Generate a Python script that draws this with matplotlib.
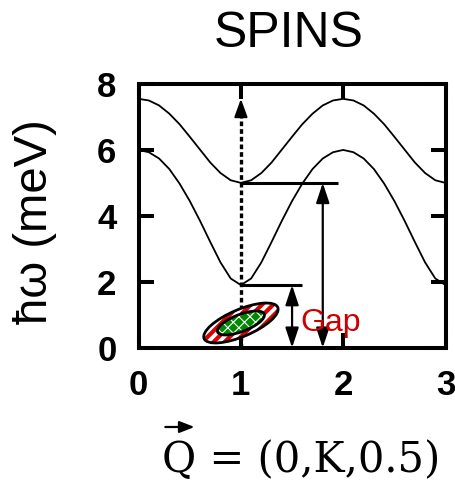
import matplotlib
matplotlib.use("Agg")
import matplotlib.pyplot as plt
import matplotlib.transforms as mtransforms
from matplotlib.patches import Ellipse

# dispersion, Q = (0,K,0.5)
q = [0.0, 0.1, 0.2, 0.3, 0.4, 0.5, 0.6, 0.7, 0.8, 0.9,
     1.0, 1.1, 1.2, 1.3, 1.4, 1.5, 1.6, 1.7, 1.8, 1.9,
     2.0, 2.1, 2.2, 2.3, 2.4, 2.5, 2.6, 2.7, 2.8, 2.9, 3.0]
lower = [6.00, 5.93, 5.74, 5.42, 4.98, 4.45, 3.85, 3.21, 2.59, 2.10,
         1.90, 2.10, 2.59, 3.21, 3.85, 4.45, 4.98, 5.42, 5.74, 5.93,
         6.00, 5.93, 5.74, 5.42, 4.98, 4.45, 3.85, 3.21, 2.59, 2.10, 1.90]
upper = [7.55, 7.50, 7.35, 7.10, 6.78, 6.40, 6.01, 5.62, 5.30, 5.08,
         5.00, 5.08, 5.30, 5.62, 6.01, 6.40, 6.78, 7.10, 7.35, 7.50,
         7.55, 7.50, 7.35, 7.10, 6.78, 6.40, 6.01, 5.62, 5.30, 5.08, 5.00]

# gap markers
gap_x = [1.5, 1.8]
gap_top = [1.9, 5.0]
level_end = [1.6, 1.95]
zone_q = 1.0
zone_top = 7.55
blob_center = (1.0, 0.75)

xticks = [0, 1, 2, 3]
yticks = [0, 2, 4, 6, 8]
xlabels = ["0", "1", "2", "3"]
ylabels = ["0", "2", "4", "6", "8"]

fig = plt.figure(figsize=(4.56, 4.8), dpi=100)
ax = fig.add_axes([0.304, 0.2756, 0.673, 0.5494])

ax.plot(q, lower, color="black", lw=1.3)
ax.plot(q, upper, color="black", lw=1.3)

# dotted line with head at Q=1
ax.plot([zone_q, zone_q], [0, zone_top - 0.3], color="black", lw=2.4,
        linestyle=(0, (1.4, 0.9)))
ax.annotate("", xy=(zone_q, zone_top), xytext=(zone_q, zone_top - 0.45),
            arrowprops=dict(arrowstyle="-|>,head_length=1.1,head_width=0.4",
                            color="black", lw=1.5, shrinkA=0, shrinkB=0))

# level lines and gap arrows
for top, end, gx in zip(gap_top, level_end, gap_x):
    ax.plot([zone_q, end], [top, top], color="black", lw=2.2, solid_capstyle="butt")
    ax.annotate("", xy=(gx, top), xytext=(gx, 0),
                arrowprops=dict(arrowstyle="<|-|>,head_length=1.2,head_width=0.4",
                                color="black", lw=1.6, shrinkA=0, shrinkB=0))

# resolution ellipses, sized in inches around a data point
trans = fig.dpi_scale_trans + mtransforms.ScaledTranslation(*blob_center, ax.transData)
plt.rcParams["hatch.linewidth"] = 3.0
ax.add_patch(Ellipse((0, 0), 0.80, 0.27, angle=23, transform=trans,
                     facecolor="white", edgecolor="#dd0000", hatch="///", lw=0, zorder=4))
ax.add_patch(Ellipse((0, 0), 0.80, 0.27, angle=23, transform=trans,
                     fill=False, edgecolor="black", lw=2, zorder=5))
plt.rcParams["hatch.linewidth"] = 0.8
ax.add_patch(Ellipse((0, 0), 0.50, 0.17, angle=21, transform=trans,
                     facecolor="#008800", edgecolor="white", hatch="xxx", lw=0, zorder=6))
ax.add_patch(Ellipse((0, 0), 0.50, 0.17, angle=21, transform=trans,
                     fill=False, edgecolor="black", lw=2, zorder=7))

ax.text(1.58, 0.5, "Gap", color="#cc0000", fontsize=23, family="Liberation Sans",
        va="baseline", ha="left", zorder=8)

ax.set_xlim(0, 3)
ax.set_ylim(0, 8)
tick_font = dict(fontsize=25, fontweight="bold", family="Liberation Sans")
ax.set_xticks(xticks, labels=xlabels, **tick_font)
ax.set_yticks(yticks, labels=ylabels, **tick_font)
ax.tick_params(direction="in", length=11, width=2.9, top=True, right=True)
ax.xaxis.set_tick_params(pad=15)
ax.yaxis.set_tick_params(pad=16)
for s in ax.spines.values():
    s.set_linewidth(2.9)

fig.text(0.632, 0.903, "SPINS", fontsize=36, family="Liberation Sans",
         ha="center", va="baseline")
fig.text(0.077, 0.5385, "ħω (meV)", fontsize=34, family="Liberation Sans",
         rotation=90, ha="center", va="center")

# x label: serif text with an arrow drawn over the Q
xl = fig.text(0.661, 0.016, "Q = (0,K,0.5)", fontsize=30, family="DejaVu Serif",
              ha="center", va="baseline")
r = fig.canvas.get_renderer()
bb = xl.get_window_extent(r)
tq = fig.text(0, 0, "Q", fontsize=30, family="DejaVu Serif")
wq = tq.get_window_extent(r).width
tq.remove()
ax.annotate("", xy=(bb.x0 + wq - 2, 53), xytext=(bb.x0 + 3, 53),
            xycoords="figure pixels", textcoords="figure pixels",
            arrowprops=dict(arrowstyle="-|>,head_length=0.9,head_width=0.35",
                            color="black", lw=1.6, shrinkA=0, shrinkB=0))

fig.savefig("out.png", dpi=100)
